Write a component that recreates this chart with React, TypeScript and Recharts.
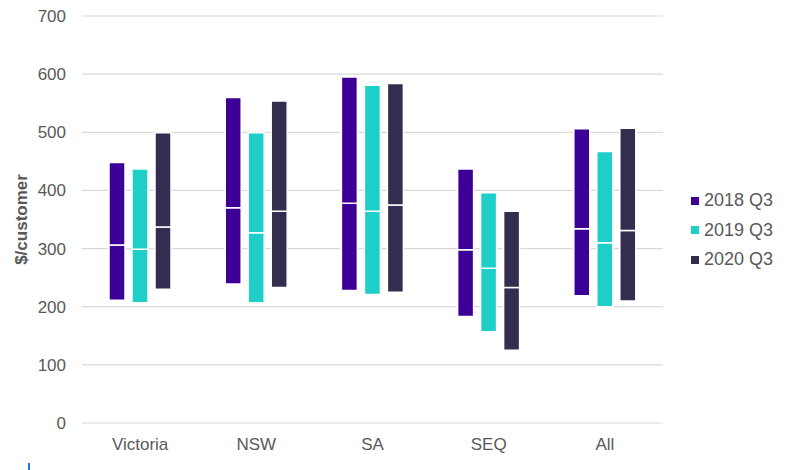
import React from 'react';
import { BarChart, Bar, XAxis, YAxis, CartesianGrid } from 'recharts';

const categories = ['Victoria', 'NSW', 'SA', 'SEQ', 'All'];

const low2018 = [211, 239, 228, 183, 219];
const med2018 = [306, 370, 378, 298, 334];
const high2018 = [448, 560, 595, 437, 506];

const low2019 = [207, 207, 221, 157, 200];
const med2019 = [299, 327, 364, 266, 310];
const high2019 = [437, 499, 581, 396, 467];

const low2020 = [230, 233, 225, 125, 210];
const med2020 = [337, 364, 375, 233, 331];
const high2020 = [499, 554, 584, 364, 507];

const yTicks = [0, 100, 200, 300, 400, 500, 600, 700];

const series = [
  { key: 's2018', name: '2018 Q3', color: '#3D0096', low: low2018, med: med2018, high: high2018 },
  { key: 's2019', name: '2019 Q3', color: '#1DCFC8', low: low2019, med: med2019, high: high2019 },
  { key: 's2020', name: '2020 Q3', color: '#352D4F', low: low2020, med: med2020, high: high2020 },
];

const data = categories.map((c, i) => {
  const row: Record<string, any> = { name: c };
  series.forEach((s) => {
    row[s.key + '_base'] = s.low[i];
    row[s.key + '_lower'] = s.med[i] - s.low[i];
    row[s.key + '_upper'] = s.high[i] - s.med[i];
  });
  return row;
});

const FONT = '"Liberation Sans", Arial, sans-serif';
const TEXT = '#595959';

export default function App() {
  return (
    <div style={{ position: 'absolute', left: 0, top: 0, width: 790, height: 470, background: '#fff', fontFamily: FONT }}>
      <BarChart
        width={790}
        height={470}
        data={data}
        margin={{ top: 16, right: 127, left: 0, bottom: 0 }}
        barSize={16}
        barGap={7}
      >
        <CartesianGrid vertical={false} stroke="#d9d9d9" strokeWidth={1.2} />
        <XAxis
          dataKey="name"
          axisLine={false}
          tickLine={false}
          height={47}
          tickMargin={9}
          tick={{ fill: TEXT, fontSize: 17, fontFamily: FONT }}
        />
        <YAxis
          domain={[0, 700]}
          ticks={yTicks}
          width={82}
          axisLine={false}
          tickLine={false}
          tickMargin={10}
          tick={{ fill: TEXT, fontSize: 17, fontFamily: FONT }}
          label={{
            value: '$/customer',
            angle: -90,
            position: 'insideLeft',
            offset: 21,
            style: { textAnchor: 'middle', fill: TEXT, fontSize: 17, fontWeight: 'bold', fontFamily: FONT },
          }}
        />
        {series.map((s) => [
          <Bar key={s.key + '_base'} dataKey={s.key + '_base'} stackId={s.key} fill="transparent" isAnimationActive={false} />,
          <Bar key={s.key + '_lower'} dataKey={s.key + '_lower'} stackId={s.key} fill={s.color} stroke="#ffffff" strokeWidth={1.5} isAnimationActive={false} />,
          <Bar key={s.key + '_upper'} dataKey={s.key + '_upper'} stackId={s.key} fill={s.color} stroke="#ffffff" strokeWidth={1.5} isAnimationActive={false} />,
        ])}
      </BarChart>
      <div style={{ position: 'absolute', left: 691, top: 186 }}>
        {series.map((s) => (
          <div key={s.key} style={{ display: 'flex', alignItems: 'center', height: 29.5, fontSize: 18, color: TEXT, whiteSpace: 'nowrap' }}>
            <span style={{ display: 'inline-block', width: 8, height: 8, background: s.color, marginRight: 5 }} />
            <span>{s.name}</span>
          </div>
        ))}
      </div>
      <div style={{ position: 'absolute', left: 28, top: 463, width: 2, height: 7, background: '#1a73e8' }} />
    </div>
  );
}
